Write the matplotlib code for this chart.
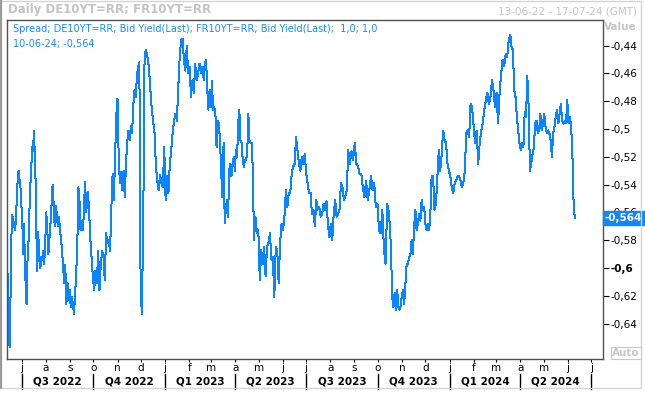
import matplotlib
matplotlib.use("Agg")
import matplotlib.pyplot as plt
import matplotlib.transforms as mtransforms
from matplotlib.patches import Rectangle
from matplotlib.lines import Line2D
import numpy as np
import pandas as pd

# ---------------- data ----------------
seg1_values = [
    -0.604, -0.642, -0.657, -0.623, -0.578, -0.562, -0.566, -0.568, -0.573, -0.566,
    -0.551, -0.537, -0.530, -0.536, -0.539, -0.556, -0.558, -0.590, -0.568, -0.590,
    -0.614, -0.626, -0.597, -0.587, -0.573, -0.549, -0.537, -0.525, -0.513, -0.516,
    -0.501, -0.516, -0.536, -0.573, -0.602, -0.574, -0.582, -0.597, -0.600, -0.592,
    -0.594, -0.588, -0.597, -0.582, -0.560, -0.573, -0.590, -0.579, -0.568, -0.555,
    -0.540, -0.554, -0.570, -0.555, -0.561, -0.570, -0.563, -0.572, -0.579, -0.587,
    -0.599, -0.611, -0.598, -0.626, -0.611, -0.623, -0.616, -0.628, -0.621, -0.626,
    -0.633, -0.618, -0.604, -0.585, -0.542, -0.551, -0.573, -0.566, -0.573, -0.562,
    -0.538, -0.560, -0.545, -0.555, -0.578, -0.592, -0.606, -0.616, -0.602, -0.611,
    -0.588, -0.616, -0.597, -0.588, -0.592, -0.609, -0.575, -0.582, -0.580, -0.588,
    -0.556, -0.532, -0.551, -0.520, -0.491, -0.478, -0.520, -0.539, -0.531, -0.544,
    -0.530, -0.549, -0.525, -0.510, -0.501, -0.508, -0.498, -0.503, -0.483, -0.472,
    -0.477, -0.462, -0.455, -0.452, -0.609, -0.633, -0.573, -0.446, -0.443, -0.448,
    -0.455, -0.470, -0.484, -0.494, -0.501, -0.525, -0.537, -0.544, -0.533, -0.539,
    -0.542, -0.513, -0.551, -0.534, -0.546, -0.525, -0.515, -0.503, -0.494, -0.489,
    -0.494, -0.470, -0.448, -0.436, -0.435, -0.450, -0.458, -0.440, -0.460, -0.455,
    -0.477, -0.465, -0.474, -0.453, -0.465, -0.460, -0.453,
]
seg2_values = [
    -0.455, -0.460, -0.455, -0.465, -0.453, -0.450, -0.471, -0.486, -0.472, -0.484,
    -0.465, -0.486, -0.484, -0.489, -0.513, -0.494, -0.496, -0.510, -0.532, -0.549,
    -0.510, -0.568, -0.558, -0.551, -0.563, -0.530, -0.525, -0.534, -0.525, -0.520,
    -0.530, -0.515, -0.520, -0.496, -0.486, -0.508, -0.510, -0.522, -0.527, -0.522,
    -0.522, -0.518, -0.489, -0.508, -0.510, -0.510, -0.530, -0.580, -0.563, -0.575,
    -0.573, -0.609, -0.587, -0.597, -0.585, -0.606, -0.585, -0.582, -0.575, -0.594,
    -0.592, -0.621, -0.585, -0.587, -0.611, -0.582, -0.568, -0.573, -0.563, -0.544,
    -0.556, -0.546, -0.546, -0.532, -0.527, -0.525, -0.506, -0.515, -0.525, -0.530,
    -0.520, -0.525, -0.518, -0.532, -0.539, -0.546, -0.546, -0.561, -0.558, -0.570,
    -0.551, -0.558, -0.556, -0.563, -0.561, -0.554, -0.558, -0.552, -0.568, -0.578,
    -0.568, -0.580, -0.561, -0.551, -0.563, -0.561, -0.558, -0.539, -0.542, -0.551,
    -0.548, -0.544, -0.515, -0.525, -0.516, -0.522, -0.510, -0.525, -0.527, -0.532,
    -0.532, -0.542, -0.549, -0.537, -0.551, -0.544, -0.534, -0.544, -0.539, -0.556,
    -0.554, -0.573, -0.575, -0.558, -0.587, -0.597, -0.554, -0.558, -0.568, -0.585,
    -0.621, -0.628, -0.618, -0.630, -0.616, -0.628, -0.630,
]
seg3_values = [
    -0.628, -0.621, -0.616, -0.626, -0.611, -0.597, -0.597, -0.592, -0.590, -0.580,
    -0.590, -0.570, -0.558, -0.573, -0.568, -0.561, -0.566, -0.551, -0.558, -0.556,
    -0.568, -0.573, -0.568, -0.573, -0.561, -0.534, -0.534, -0.558, -0.554, -0.534,
    -0.515, -0.530, -0.518, -0.501, -0.508, -0.510, -0.525, -0.530, -0.534, -0.542,
    -0.546, -0.539, -0.537, -0.534, -0.534, -0.537, -0.542, -0.539, -0.530, -0.503,
    -0.501, -0.506, -0.482, -0.484, -0.498, -0.510, -0.501, -0.525, -0.510, -0.501,
    -0.496, -0.486, -0.479, -0.474, -0.482, -0.477, -0.465, -0.472, -0.484, -0.474,
    -0.496, -0.474, -0.460, -0.450, -0.455, -0.446, -0.448, -0.436, -0.432, -0.441,
    -0.443, -0.472, -0.477, -0.491, -0.501, -0.510, -0.515, -0.510, -0.513, -0.488,
    -0.491, -0.462, -0.484, -0.530, -0.525, -0.518, -0.513, -0.496, -0.494, -0.503,
    -0.501, -0.489, -0.501, -0.496, -0.489, -0.498, -0.503, -0.501, -0.503, -0.508,
    -0.520, -0.503, -0.498, -0.491, -0.486, -0.496, -0.489, -0.482, -0.494, -0.496,
    -0.494, -0.496, -0.479, -0.496, -0.491, -0.498, -0.518, -0.556, -0.564,
]
# known dates of selected observations (index into the joined series, date)
anchor_index = [0, 20, 40, 60, 80, 100, 125, 145, 166,
                167, 187, 214, 236, 257, 279, 303, 313,
                314, 339, 366, 392, 414, 442]
anchor_dates = ["2022-06-13", "2022-07-06", "2022-07-27", "2022-08-23", "2022-09-20",
                "2022-10-24", "2022-12-02", "2023-01-07", "2023-02-14",
                "2023-02-15", "2023-03-17", "2023-04-25", "2023-06-05", "2023-07-14",
                "2023-08-24", "2023-10-13", "2023-10-29",
                "2023-10-30", "2023-12-09", "2024-01-28", "2024-03-19", "2024-04-25",
                "2024-06-10"]

last_date_label = "10-06-24"
last_value = -0.564

y_ticks = [-0.44, -0.46, -0.48, -0.50, -0.52, -0.54, -0.56, -0.58, -0.60, -0.62, -0.64]
y_tick_labels = ["-0,44", "-0,46", "-0,48", "-0,5", "-0,52", "-0,54", "-0,56",
                 "-0,58", "-0,6", "-0,62", "-0,64"]

month_starts = pd.date_range("2022-07-01", "2024-07-01", freq="MS")
month_letters = ["j", "a", "s", "o", "n", "d", "j", "f", "m", "a", "m", "j",
                 "j", "a", "s", "o", "n", "d", "j", "f", "m", "a", "m", "j", "j"]
quarter_starts = pd.date_range("2022-07-01", "2024-07-01", freq="QS")
quarter_labels = ["Q3 2022", "Q4 2022", "Q1 2023", "Q2 2023",
                  "Q3 2023", "Q4 2023", "Q1 2024", "Q2 2024"]

x_range = ("2022-06-12", "2024-07-16")
y_range = (-0.6655, -0.4215)

# ---------------- build series ----------------
values = seg1_values + seg2_values + seg3_values
anchor_ns = pd.to_datetime(anchor_dates).asi8.astype(float)
date_ns = np.interp(np.arange(len(values)), anchor_index, anchor_ns)
dates = pd.to_datetime(date_ns.astype("int64"))

# ---------------- figure ----------------
W, H = 645, 394
fig = plt.figure(figsize=(W / 100, H / 100), dpi=100)
fig.patch.set_facecolor("white")


def fx(px):
    return px / W


def fy(py):
    return 1 - py / H


ax = fig.add_axes([fx(7), fy(359), fx(603) - fx(7), fy(20) - fy(359)])
ax.set_facecolor("white")

line_color = "#0a84ff"
ax.plot(dates, values, color=line_color, lw=0.72, antialiased=False)

ax.set_xlim(pd.Timestamp(x_range[0]), pd.Timestamp(x_range[1]))
ax.set_ylim(*y_range)

for sp in ax.spines.values():
    sp.set_color("#505050")
    sp.set_linewidth(1.0)

# y axis on the right
ax.yaxis.tick_right()
ax.set_yticks(y_ticks)
ax.set_yticklabels(y_tick_labels)
ax.tick_params(axis="y", direction="out", length=4, width=0.8, color="#000000",
               labelsize=7.5, pad=1.5, labelcolor="#000000")
for lbl in ax.get_yticklabels():
    if lbl.get_text() == "-0,6":
        lbl.set_fontweight("bold")

# x axis: months
ax.set_xticks(month_starts)
ax.set_xticklabels(month_letters)
ax.tick_params(axis="x", direction="out", length=2, width=0.8, color="#000000",
               labelsize=7.5, pad=1.0, labelcolor="#000000")

# quarter labels and separators
trans_q = mtransforms.blended_transform_factory(ax.transData, fig.transFigure)
for q in quarter_starts:
    ax.add_line(Line2D([q, q], [fy(374), fy(389)], transform=trans_q,
                       color="#000000", lw=1.0, clip_on=False))
for i, lab in enumerate(quarter_labels):
    mid = quarter_starts[i] + (quarter_starts[i + 1] - quarter_starts[i]) / 2
    ax.text(mid, fy(382), lab, transform=trans_q, ha="center", va="center",
            fontsize=7.5, fontweight="bold", color="#000000", clip_on=False)

# legend text inside the plot
blue_txt = "#1a8cff"
lx = (13 - 7) / (603 - 7)
ax.text(lx, (359 - 29) / 339,
        "Spread; DE10YT=RR; Bid Yield(Last); FR10YT=RR; Bid Yield(Last);  1,0; 1,0",
        transform=ax.transAxes, ha="left", va="center", fontsize=7,
        color=blue_txt)
ax.text(lx, (359 - 44) / 339,
        f"{last_date_label}; " + f"{last_value:.3f}".replace(".", ","),
        transform=ax.transAxes, ha="left", va="center", fontsize=7,
        color=blue_txt)

# last value box on the right axis
trans_v = mtransforms.blended_transform_factory(fig.transFigure, ax.transData)
ax.text(fx(623.5), last_value, f"{last_value:.3f}".replace(".", ","),
        transform=trans_v, ha="center", va="center", fontsize=7.5,
        fontweight="bold", color="white", clip_on=False, zorder=10,
        bbox=dict(boxstyle="square,pad=0.15", facecolor="#1585f5",
                  edgecolor="#1585f5"))

# "Auto" box
fig.text(fx(626), fy(353), "Auto", ha="center", va="center", fontsize=7.5,
         fontweight="bold", color="#c8c8c8",
         bbox=dict(boxstyle="square,pad=0.12", facecolor="white",
                   edgecolor="#c8c8c8", lw=0.8))

# header texts
fig.text(fx(8), fy(10), "Daily DE10YT=RR; FR10YT=RR", ha="left", va="center",
         fontsize=8.5, fontweight="bold", color="#c4c4c4")
fig.text(fx(637), fy(12), "13-06-22 - 17-07-24 (GMT)", ha="right", va="center",
         fontsize=7.5, color="#c4c4c4")
fig.text(fx(637), fy(27), "Value", ha="right", va="center",
         fontsize=7.5, fontweight="bold", color="#c4c4c4")

# outer frame
fig.patches.append(Rectangle((fx(0.5), fy(388)), fx(641) - fx(0.5), fy(0.5) - fy(388),
                             transform=fig.transFigure, fill=False,
                             edgecolor="#d4d4d4", lw=1.0))
fig.lines.append(Line2D([fx(0.8), fx(0.8)], [fy(388), fy(0)],
                        transform=fig.transFigure, color="#8a8a8a", lw=1.2))

fig.savefig("out.png", dpi=100)
